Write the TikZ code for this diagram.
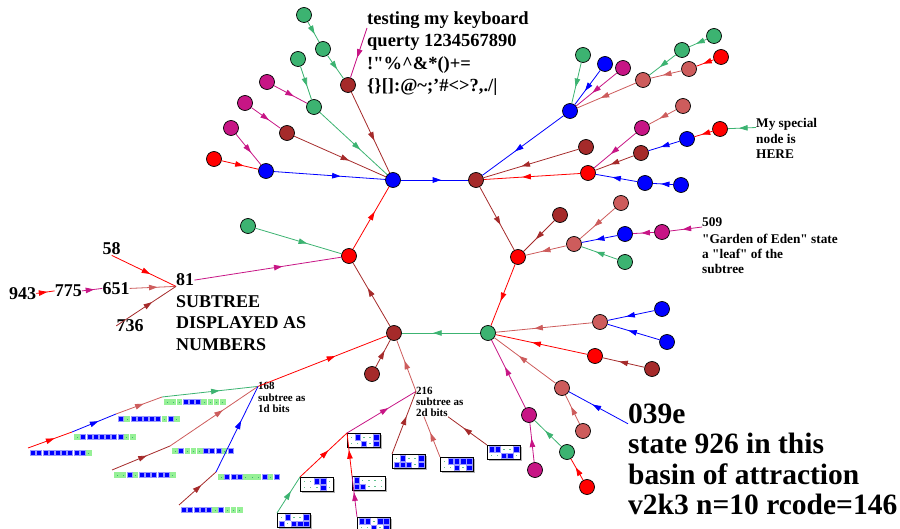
\documentclass[tikz,border=0pt]{standalone}
\usepackage{fontspec}
\setmainfont{Liberation Serif}
\newfontfamily\plainquote{Liberation Serif}[Ligatures=TeXOff]
\usetikzlibrary{arrows.meta, decorations.markings, positioning, calc}

\definecolor{sblue}{RGB}{0,0,255}
\definecolor{sred}{RGB}{255,0,0}
\definecolor{sbrown}{RGB}{165,42,42}
\definecolor{sgreen}{RGB}{60,179,113}
\definecolor{smag}{RGB}{199,21,133}
\definecolor{sindian}{RGB}{205,92,92}
\definecolor{bitgreen}{RGB}{150,240,150}

\tikzset{
  state/.style={circle, draw=black, line width=0.7pt, minimum size=15pt, inner sep=0pt},
  bluestate/.style={state, fill=sblue},
  redstate/.style={state, fill=sred},
  brownstate/.style={state, fill=sbrown},
  greenstate/.style={state, fill=sgreen},
  magstate/.style={state, fill=smag},
  indianstate/.style={state, fill=sindian}
}
\tikzset{
  flow/.style={line width=0.8pt, postaction={decorate},
    decoration={markings, mark=at position 0.6 with {\arrow{Triangle[length=8.5pt,width=5.5pt]}}}}
}
\tikzset{
  keytext/.style={font=\bfseries\fontsize{18.5}{22.6}\selectfont, align=left, inner sep=0pt},
  numtext/.style={font=\bfseries\fontsize{18}{21.3}\selectfont, align=left, inner sep=0pt},
  notetext/.style={font=\bfseries\fontsize{13.3}{15.3}\selectfont, align=left, inner sep=0pt},
  tinytext/.style={font=\bfseries\fontsize{11}{11}\selectfont, align=left, inner sep=0pt},
  hugetext/.style={font=\bfseries\fontsize{29.5}{30.3}\selectfont, align=left, inner sep=0pt}
}

% straight double quote
\newcommand{\dq}{{\plainquote"}}
% one cell of a 2d bit box: box, column, row, bit
\newcommand{\bitcell}[4]{%
  \ifnum#4=1
    \filldraw[fill=sblue, draw=sblue!40, line width=0.5pt] ([shift={(1.75+6.2*#2,1.25+6.5*#3)}]#1) rectangle ++(5.5,5.5);
  \else
    \fill[sgreen!80] ([shift={(3.8+6.2*#2,3.5+6.5*#3)}]#1) rectangle ++(1.4,1);
  \fi
}
% 2d bit box, 5x2: name, top-left corner, top row, bottom row
\newcommand{\bitbox}[4]{%
  \coordinate (#1) at (#2);
  \fill[gray!60] ([shift={(1.5,1.5)}]#1) rectangle ++(33,14);
  \filldraw[fill=white, draw=black, line width=0.7pt] (#1) rectangle ++(33,14);
  \foreach \b [count=\i from 0] in {#3} {\bitcell{#1}{\i}{0}{\b}}
  \foreach \b [count=\i from 0] in {#4} {\bitcell{#1}{\i}{1}{\b}}
}
% 1d bit string: name, top-left point, bits
\newcommand{\bitrow}[3]{%
  \coordinate (#1) at (#2);
  \foreach \b [count=\i from 0] in {#3} {
    \ifnum\b=1
      \filldraw[fill=sblue, draw=sblue!40, line width=0.6pt] ([shift={(2.5+6.2*\i,2.5)}]#1) rectangle ++(5,5);
    \else
      \fill[bitgreen] ([shift={(2.2+6.2*\i,2.2)}]#1) rectangle ++(5.6,5.6);
      \fill[sgreen] ([shift={(4.6+6.2*\i,4.6)}]#1) rectangle ++(0.8,0.8);
    \fi
  }
}

\begin{document}
\begin{tikzpicture}[x=1pt, y=-1pt]
  \useasboundingbox (0,0) rectangle (900,529);

  % attractor cycle
  \node[bluestate]   (a1) at (393,180) {};
  \node[brownstate]  (a2) at (476,180) {};
  \node[redstate]    (a3) at (518,257) {};
  \node[greenstate]  (a4) at (488,333) {};
  \node[brownstate]  (a5) at (394,333) {};
  \node[redstate]    (a6) at (349,256) {};
  \draw[flow, sblue]  (a1) -- (a2);
  \draw[flow, sbrown] (a2) -- (a3);
  \draw[flow, sred]   (a3) -- (a4);
  \draw[flow, sgreen] (a4) -- (a5);
  \draw[flow, sbrown] (a5) -- (a6);
  \draw[flow, sred]   (a6) -- (a1);

  % tree into a1
  \node[bluestate]  (b1)  at (266,171) {};
  \node[redstate]   (b1a) at (214,159) {};
  \node[magstate]   (b1b) at (231,128) {};
  \node[brownstate] (b2)  at (287,133) {};
  \node[magstate]   (b2a) at (245,103) {};
  \node[greenstate] (b3)  at (314,107) {};
  \node[magstate]   (b3a) at (267,82) {};
  \node[greenstate] (b3b) at (298,59) {};
  \node[brownstate] (b4)  at (348,85) {};
  \node[greenstate] (b4a) at (323,49) {};
  \node[greenstate] (b4b) at (304,15) {};
  \node[keytext, anchor=north west] (tkey) at (367,11)
    {testing my keyboard\\querty 1234567890\\!\dq\%\^{}\&*()+=\\\{\}[]:@\textasciitilde;'\#<>?,./|};
  \draw[flow, sblue]  (b1) -- (a1);
  \draw[flow, sbrown] (b2) -- (a1);
  \draw[flow, sgreen] (b3) -- (a1);
  \draw[flow, sbrown] (b4) -- (a1);
  \draw[flow, sred]   (b1a) -- (b1);
  \draw[flow, smag]   (b1b) -- (b1);
  \draw[flow, smag]   (b2a) -- (b2);
  \draw[flow, smag]   (b3a) -- (b3);
  \draw[flow, sgreen] (b3b) -- (b3);
  \draw[flow, sgreen] (b4a) -- (b4);
  \draw[flow, sgreen] (b4b) -- (b4a);
  \draw[flow, smag]   ([yshift=-17pt]tkey.north west) -- (b4);

  % tree into a2
  \node[bluestate]   (c1)  at (570,111) {};
  \node[greenstate]  (c1a) at (583,55) {};
  \node[bluestate]   (c1b) at (605,64) {};
  \node[magstate]    (c1c) at (623,68) {};
  \node[indianstate] (c1d) at (643,80) {};
  \node[greenstate]  (c1e) at (682,50) {};
  \node[greenstate]  (c1f) at (714,36) {};
  \node[indianstate] (c1g) at (689,69) {};
  \node[redstate]    (c1h) at (721,57) {};
  \node[brownstate]  (c2)  at (586,147) {};
  \node[redstate]    (c3)  at (588,173) {};
  \node[magstate]    (c3a) at (642,128) {};
  \node[indianstate] (c3b) at (683,106) {};
  \node[brownstate]  (c3c) at (641,153) {};
  \node[bluestate]   (c3d) at (687,139) {};
  \node[redstate]    (c3e) at (720,129) {};
  \node[bluestate]   (c3f) at (645,183) {};
  \node[bluestate]   (c3g) at (681,185) {};
  \node[notetext, anchor=north west] (there) at (756,118.5) {My special\\node is\\HERE};
  \draw[flow, sblue]   (c1) -- (a2);
  \draw[flow, sbrown]  (c2) -- (a2);
  \draw[flow, sred]    (c3) -- (a2);
  \draw[flow, sgreen]  (c1a) -- (c1);
  \draw[flow, sblue]   (c1b) -- (c1);
  \draw[flow, smag]    (c1c) -- (c1);
  \draw[flow, sindian] (c1d) -- (c1);
  \draw[flow, sgreen]  (c1e) -- (c1d);
  \draw[flow, sgreen]  (c1f) -- (c1e);
  \draw[flow, sindian] (c1g) -- (c1d);
  \draw[flow, sred]    (c1h) -- (c1g);
  \draw[flow, smag]    (c3a) -- (c3);
  \draw[flow, sindian] (c3b) -- (c3a);
  \draw[flow, sbrown]  (c3c) -- (c3);
  \draw[flow, sblue]   (c3d) -- (c3c);
  \draw[flow, sred]    (c3e) -- (c3d);
  \draw[flow, sgreen]  ([yshift=-9pt]there.north west) -- (c3e);
  \draw[flow, sblue]   (c3f) -- (c3);
  \draw[flow, sblue]   (c3g) -- (c3f);

  % tree into a3
  \node[brownstate]  (d1)  at (560,215) {};
  \node[indianstate] (d2)  at (574,244) {};
  \node[indianstate] (d2a) at (621,203) {};
  \node[bluestate]   (d2b) at (625,234) {};
  \node[magstate]    (d2c) at (662,232) {};
  \node[greenstate]  (d2d) at (625,262) {};
  \node[notetext, anchor=base west] (n509) at (702,226.7) {509};
  \node[notetext, anchor=north west] (t509) at (702,233.5)
    {\dq Garden of Eden\dq{} state\\a \dq leaf\dq{} of the\\subtree};
  \draw[flow, sbrown]  (d1) -- (a3);
  \draw[flow, sindian] (d2) -- (a3);
  \draw[flow, sindian] (d2a) -- (d2);
  \draw[flow, sblue]   (d2b) -- (d2);
  \draw[flow, smag]    (d2c) -- (d2b);
  \draw[flow, smag]    (n509.south west) -- (d2c);
  \draw[flow, sgreen]  (d2d) -- (d2);

  % tree into a4
  \node[indianstate] (e1)  at (600,322) {};
  \node[bluestate]   (e1a) at (662,309) {};
  \node[bluestate]   (e1b) at (667,342) {};
  \node[redstate]    (e2)  at (595,356) {};
  \node[brownstate]  (e2a) at (652,369) {};
  \node[indianstate] (e3)  at (562,388) {};
  \node[indianstate] (e3a) at (583,431) {};
  \node[magstate]    (e4)  at (529,415) {};
  \node[magstate]    (e4a) at (535,470) {};
  \node[greenstate]  (e4b) at (567,452) {};
  \node[redstate]    (e4c) at (587,487) {};
  \node[hugetext, anchor=base west] (n039) at (628,423.3) {039e};
  \node[hugetext, anchor=north west] (t039) at (628,433.3)
    {state 926 in this\\basin of attraction\\v2k3 n=10 rcode=146};
  \draw[flow, sindian] (e1) -- (a4);
  \draw[flow, sblue]   (e1a) -- (e1);
  \draw[flow, sblue]   (e1b) -- (e1);
  \draw[flow, sred]    (e2) -- (a4);
  \draw[flow, sbrown]  (e2a) -- (e2);
  \draw[flow, sindian] (e3) -- (a4);
  \draw[flow, sindian] (e3a) -- (e3);
  \draw[flow, sblue]   (n039.south west) -- (e3);
  \draw[flow, smag]    (e4) -- (a4);
  \draw[flow, smag]    (e4a) -- (e4);
  \draw[flow, sgreen]  (e4b) -- (e4);
  \draw[flow, sred]    (e4c) -- (e4b);

  % tree into a6, with a subtree shown as numbers
  \node[greenstate] (g1) at (248,226) {};
  \node[numtext, anchor=base west] (n81) at (176,286) {81};
  \node[numtext, anchor=north west] (t81) at (176,295.4) {SUBTREE\\DISPLAYED AS\\NUMBERS};
  \node[numtext, anchor=base] (n58)  at (111.7,255) {58};
  \node[numtext, anchor=base] (n943) at (22.7,299.3) {943};
  \node[numtext, anchor=base] (n775) at (68.3,296.7) {775};
  \node[numtext, anchor=base] (n651) at (116,294.3) {651};
  \node[numtext, anchor=base] (n736) at (130,331.7) {736};
  \draw[flow, sgreen]  (g1) -- (a6);
  \draw[flow, smag]    (n81.east) -- (a6);
  \draw[flow, sred]    (n58.south) -- (n81.south west);
  \draw[flow, sred]    (n943.east) -- (n775.west);
  \draw[flow, smag]    (n775.east) -- (n651.west);
  \draw[flow, sindian] (n651.east) -- (n81.south west);
  \draw[flow, sbrown]  (n736.west) -- (n81.south west);

  % tree into a5
  \node[brownstate] (f1) at (372,374) {};
  \node[tinytext, anchor=base west] (n168) at (258,390) {168};
  \node[tinytext, anchor=north west] (t168) at (258,393.3) {subtree as\\1d bits};
  \node[tinytext, anchor=base west] (n216) at (416,395) {216};
  \node[tinytext, anchor=north west] (t216) at (416,397.6) {subtree as\\2d bits};
  \draw[flow, sbrown]  (f1) -- (a5);
  \draw[flow, sred]    (n168.west) -- (a5);
  \draw[flow, sindian] (n216.west) -- (a5);

  % 168 subtree as 1d bits
  \bitrow{s1}{162,397}{0,0,0,1,1,1,0,0,0,0}
  \bitrow{s2}{116,414}{1,0,1,1,1,1,1,0,1,0}
  \bitrow{s3}{72,432}{0,1,1,1,1,1,1,1,0,0}
  \bitrow{s4}{28,448}{1,1,1,1,1,1,1,1,1,0}
  \bitrow{s5}{170,446}{0,1,0,0,0,1,1,1,0,1}
  \bitrow{s6}{112,470}{0,0,1,0,1,1,1,1,1,0}
  \bitrow{s7}{216,472}{0,1,1,1,0,0,0,1,0,1}
  \bitrow{s8}{179,505}{1,1,1,1,1,0,1,0,0,0}
  \draw[flow, sgreen]  (s1) -- (n168.west);
  \draw[flow, sindian] (s2) -- (s1);
  \draw[flow, sblue]   (s3) -- (s2);
  \draw[flow, sred]    (s4) -- (s3);
  \draw[flow, sindian] (s5) -- (n168.west);
  \draw[flow, sbrown]  (s6) -- (s5);
  \draw[flow, sblue]   (s7) -- (n168.west);
  \draw[flow, sbrown]  (s8) -- (s7);

  % 216 subtree as 2d bits
  \bitbox{x1}{347,433}{0,1,0,0,1}{0,0,1,0,1}
  \bitbox{x2}{300,477}{0,0,1,1,0}{0,0,0,1,0}
  \bitbox{x3}{277,513}{0,1,0,0,1}{1,0,1,1,1}
  \bitbox{x4}{352,476}{1,0,0,0,0}{1,1,0,0,0}
  \bitbox{x5}{357,517}{1,1,0,1,1}{0,0,1,0,1}
  \bitbox{x6}{392,454}{0,1,0,0,1}{1,1,1,0,1}
  \bitbox{x7}{440,457}{0,1,1,1,1}{0,0,1,0,1}
  \bitbox{x8}{487,445}{1,1,0,0,1}{0,0,1,1,0}
  \draw[flow, smag]    (x1) -- (n216.west);
  \draw[flow, sred]    (x2) -- (x1);
  \draw[flow, sgreen]  (x3) -- (x2);
  \draw[flow, sred]    (x4) -- (x1);
  \draw[flow, smag]    (x5) -- (x4);
  \draw[flow, sbrown]  (x6) -- (n216.west);
  \draw[flow, sindian] (x7) -- ([xshift=8pt]t216.south west);
  \draw[flow, sbrown]  (x8) -- ([xshift=32pt]t216.south west);
\end{tikzpicture}
\end{document}
